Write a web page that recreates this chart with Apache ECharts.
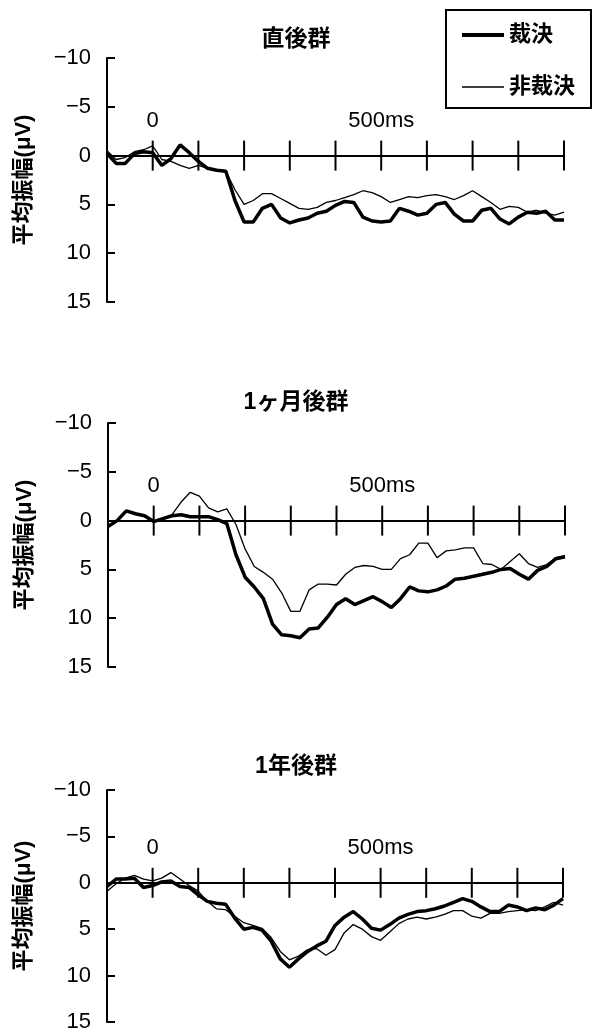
<!DOCTYPE html>
<html>
<head>
<meta charset="utf-8">
<title>平均振幅</title>
<script src="https://cdn.jsdelivr.net/npm/echarts@6/dist/echarts.min.js"></script>
<style>
  html, body { margin: 0; padding: 0; background: #fff; }
  #main { width: 592px; height: 1034px; }
</style>
</head>
<body>
<div id="main"></div>
<script>
// 時間軸 (ms)
const times = [-100, -80, -60, -40, -20, 0, 20, 40, 60, 80, 100, 120, 140, 160, 180, 200, 220, 240, 260, 280,
  300, 320, 340, 360, 380, 400, 420, 440, 460, 480, 500, 520, 540, 560, 580, 600, 620, 640, 660, 680,
  700, 720, 740, 760, 780, 800, 820, 840, 860, 880, 900];

const panelTitles = ['直後群', '1ヶ月後群', '1年後群'];
const seriesNames = ['裁決', '非裁決'];
const xTickValues = [0, 100, 200, 300, 400, 500, 600, 700, 800, 900];
const xLabelValues = [0, 500];
const xLabelTexts = ['0', '500ms'];

// 直後群
const justAfterJudged = [-0.2, 0.8, 0.8, -0.2, -0.4, -0.3, 1.0, 0.3, -1.1, -0.3, 0.6, 1.3, 1.5, 1.6, 4.6, 6.8, 6.8, 5.4, 5.0, 6.4,
  6.9, 6.6, 6.4, 5.9, 5.7, 5.1, 4.7, 4.8, 6.3, 6.7, 6.8, 6.7, 5.4, 5.7, 6.1, 5.9, 5.0, 4.8, 6.0, 6.7,
  6.7, 5.6, 5.4, 6.5, 7.0, 6.3, 5.8, 5.9, 5.7, 6.6, 6.6];
const justAfterNotJudged = [-0.5, 0.4, 0.2, -0.4, -0.6, -1.0, 0.4, 0.6, 1.0, 1.3, 1.0, 1.3, 1.5, 1.6, 3.5, 5.0, 4.6, 3.9, 3.9, 4.4,
  4.9, 5.4, 5.5, 5.3, 4.8, 4.6, 4.3, 4.0, 3.6, 3.8, 4.2, 4.8, 4.5, 4.2, 4.3, 4.1, 4.0, 4.2, 4.5, 4.1,
  3.6, 4.2, 4.8, 5.5, 5.2, 5.3, 5.8, 5.6, 5.9, 6.1, 5.8];

// 1ヶ月後群
const oneMonthJudged = [0.6, 0.0, -1.0, -0.7, -0.5, 0.1, -0.2, -0.5, -0.6, -0.4, -0.4, -0.4, -0.1, 0.3, 3.5, 5.8, 6.8, 8.0, 10.6, 11.7,
  11.8, 12.0, 11.1, 11.0, 9.9, 8.6, 8.0, 8.6, 8.2, 7.8, 8.3, 8.9, 8.0, 6.8, 7.2, 7.3, 7.1, 6.7, 6.0, 5.9,
  5.7, 5.5, 5.3, 5.0, 4.9, 5.5, 6.0, 5.1, 4.7, 3.9, 3.7];
const oneMonthNotJudged = [0.6, 0.0, -1.0, -0.7, -0.4, 0.1, -0.2, -0.6, -1.9, -2.9, -2.5, -1.3, -0.9, -1.2, 0.4, 2.9, 4.7, 5.3, 6.0, 7.4,
  9.3, 9.3, 7.1, 6.5, 6.5, 6.6, 5.5, 4.8, 4.6, 4.7, 5.0, 5.0, 3.9, 3.5, 2.3, 2.3, 3.8, 3.1, 3.0, 2.8,
  2.8, 4.4, 4.5, 5.0, 4.2, 3.4, 4.4, 4.8, 4.5, 3.8, 3.6];

// 1年後群
const oneYearJudged = [0.4, -0.4, -0.4, -0.5, 0.5, 0.3, -0.1, -0.2, 0.4, 0.5, 1.3, 2.0, 2.2, 2.3, 3.8, 5.0, 4.8, 5.1, 6.3, 8.2,
  9.1, 8.2, 7.4, 6.8, 6.3, 4.6, 3.7, 3.1, 3.9, 4.9, 5.1, 4.5, 3.8, 3.4, 3.1, 3.0, 2.8, 2.5, 2.1, 1.7,
  2.0, 2.6, 3.1, 3.1, 2.4, 2.6, 3.0, 2.7, 2.9, 2.4, 1.7];
const oneYearNotJudged = [0.9, 0.1, -0.5, -0.8, -0.4, -0.2, -0.5, -1.1, -0.4, 0.3, 0.9, 2.0, 2.8, 2.9, 3.6, 4.3, 4.6, 4.9, 5.9, 7.4,
  8.3, 7.9, 7.2, 7.1, 7.8, 7.2, 5.4, 4.5, 5.0, 5.8, 6.2, 5.3, 4.4, 3.9, 3.7, 3.9, 3.7, 3.4, 3.0, 3.0,
  3.6, 3.8, 3.3, 3.3, 3.1, 3.0, 2.9, 3.0, 2.6, 2.1, 2.4];

const panels = [
  [justAfterJudged, justAfterNotJudged],
  [oneMonthJudged, oneMonthNotJudged],
  [oneYearJudged, oneYearNotJudged]
];

const grids = [
  { left: 107, right: 28, top: 58, height: 244 },
  { left: 108, right: 27, top: 423, height: 244 },
  { left: 107, right: 29, top: 790, height: 232 }
];
const titleTops = [28, 391, 755];

const fontFamily = "'Liberation Sans', 'Noto Sans CJK JP', sans-serif";
const black = { color: '#000', width: 2 };

function pairs(vals) {
  return times.map((t, i) => [t, vals[i]]);
}

// 0の線を上下にまたぐ目盛
function renderCrossTick(params, api) {
  const p = api.coord([api.value(0), 0]);
  return {
    type: 'line',
    shape: { x1: p[0], y1: p[1] - 15, x2: p[0], y2: p[1] + 15 },
    style: { stroke: '#000', lineWidth: 2 }
  };
}

function renderTickLabel(params, api) {
  const p = api.coord([api.value(0), 0]);
  return {
    type: 'text',
    x: p[0], y: p[1] - 35,
    style: {
      text: xLabelTexts[params.dataIndex],
      fontSize: 22, fontFamily: fontFamily, fill: '#000',
      align: 'center', verticalAlign: 'middle'
    }
  };
}

let titles = [], xAxes = [], yAxes = [], series = [];

for (let i = 0; i < 3; i++) {
  titles.push({
    text: panelTitles[i],
    left: 'center',
    top: titleTops[i],
    padding: 0,
    textStyle: { fontSize: 23, fontWeight: 'bold', color: '#000' }
  });

  xAxes.push({
    gridIndex: i, type: 'value', min: -100, max: 900,
    axisLine: { onZero: true, lineStyle: black },
    axisTick: { show: false },
    axisLabel: { show: false },
    splitLine: { show: false }
  });

  yAxes.push({
    gridIndex: i, type: 'value', inverse: true, min: -10, max: 15, interval: 5,
    name: '平均振幅(μV)', nameLocation: 'middle', nameGap: 72, nameRotate: 90,
    nameTextStyle: { fontSize: 22, fontWeight: 'bold', color: '#000' },
    axisLine: { show: true, onZero: false, lineStyle: black },
    axisTick: { show: true, inside: true, length: 8, lineStyle: black },
    axisLabel: {
      fontSize: 22, color: '#000', margin: 16,
      formatter: v => (v < 0 ? '\u2212' + (-v) : String(v))
    },
    splitLine: { show: false }
  });

  series.push({
    type: 'custom', xAxisIndex: i, yAxisIndex: i, clip: false, silent: true,
    data: xTickValues.map(t => [t, 0]),
    renderItem: renderCrossTick
  });
  series.push({
    type: 'custom', xAxisIndex: i, yAxisIndex: i, clip: false, silent: true,
    data: xLabelValues.map(t => [t, 0]),
    renderItem: renderTickLabel
  });

  series.push({
    name: seriesNames[0], type: 'line', xAxisIndex: i, yAxisIndex: i,
    data: pairs(panels[i][0]), symbol: 'none', z: 3,
    lineStyle: { color: '#000', width: 3.5 }, itemStyle: { color: '#000' }
  });
  series.push({
    name: seriesNames[1], type: 'line', xAxisIndex: i, yAxisIndex: i,
    data: pairs(panels[i][1]), symbol: 'none', z: 2,
    lineStyle: { color: '#000', width: 1.3 }, itemStyle: { color: '#000' }
  });
}

const chart = echarts.init(document.getElementById('main'));
chart.setOption({
  animation: false,
  backgroundColor: '#fff',
  textStyle: { fontFamily: fontFamily },
  title: titles,
  legend: {
    data: [
      { name: seriesNames[0], lineStyle: { width: 4, color: '#000' } },
      { name: seriesNames[1], lineStyle: { width: 1.3, color: '#000' } }
    ],
    orient: 'vertical',
    left: 446, top: 10,
    padding: [14, 16, 10, 14],
    itemGap: 30, itemWidth: 42, itemHeight: 14,
    borderColor: '#000', borderWidth: 2,
    selectedMode: false,
    itemStyle: { opacity: 0 },
    textStyle: { fontSize: 22, fontWeight: 'bold', color: '#000' }
  },
  grid: grids.map(g => Object.assign({ containLabel: false, outerBoundsMode: 'none' }, g)),
  xAxis: xAxes,
  yAxis: yAxes,
  series: series
});
</script>
</body>
</html>
